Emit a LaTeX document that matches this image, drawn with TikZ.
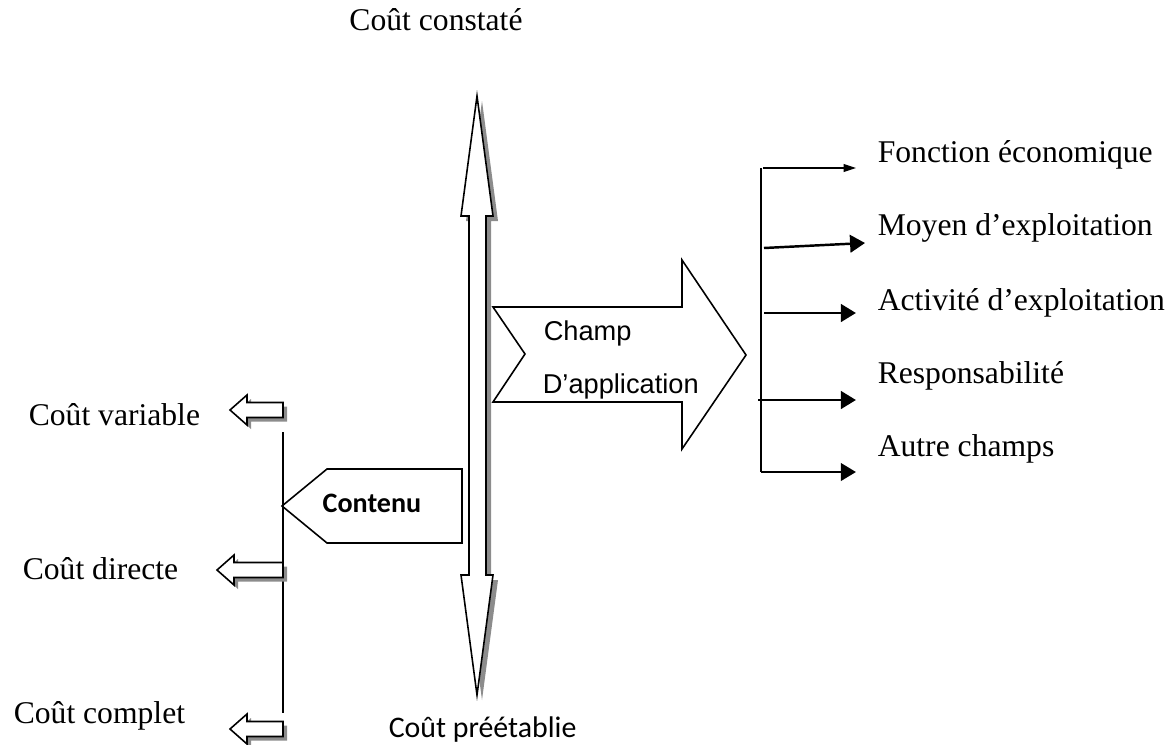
\documentclass[tikz,border=0pt]{standalone}
\usepackage{fontspec}
\setmainfont{Liberation Serif}
\newfontfamily\champfont{Liberation Sans}
\newfontfamily\calfont{Carlito}
\usetikzlibrary{arrows.meta}

\definecolor{shadowgray}{gray}{0.55}

\tikzset{
  lbl/.style={font=\fontsize{18}{20}\selectfont, inner sep=0pt, anchor=base west},
  boxshadow/.style={fill=shadowgray, draw=none},
  box/.style={draw, fill=white, line join=miter},
  thinarrow/.style={line width=0.6pt, -{Triangle[length=7pt,width=4.5pt]}},
  fatarrow/.style={line width=1.4pt, -{Triangle[length=8.5pt,width=10pt]}}
}

% small hollow arrow pointing left: tip x, centre y, length
\newcommand\costarrow[3]{%
  \begin{scope}[shift={(#1,#2)}]
    \fill[boxshadow] (4,4) -- (21,-11) -- (21,-3.5) -- (#3+4,-3.5) -- (#3+4,11.5) -- (21,11.5) -- (21,19) -- cycle;
    \draw[box] (0,0) -- (17,-15) -- (17,-7.5) -- (#3,-7.5) -- (#3,7.5) -- (17,7.5) -- (17,15) -- cycle;
  \end{scope}}

\begin{document}
\begin{tikzpicture}[x=0.02cm, y=-0.02cm, line width=0.9pt]
\useasboundingbox (0,0) rectangle (1173,744);

% big vertical double arrow
\fill[boxshadow] (482,101) -- (498,221) -- (491,221) -- (491,580) -- (498,580) -- (482,700)
  -- (466,580) -- (474,580) -- (474,221) -- (466,221) -- cycle;
\draw[box] (477,96) -- (493,216) -- (486,216) -- (486,575) -- (493,575) -- (477,695)
  -- (461,575) -- (469,575) -- (469,216) -- (461,216) -- cycle;
\node[lbl, anchor=base] (constate) at (436,30) {Coût constaté};
\node[font=\calfont\fontsize{17}{20}\selectfont, inner sep=0pt, anchor=base west] (preetab) at (388,737) {Coût préétablie};

% champ d'application
\draw[box] (493,307) -- (682,307) -- (682,260) -- (746,355) -- (682,449) -- (682,402)
  -- (493,402) -- (525,354) -- cycle;
\node[font=\champfont\fontsize{15.5}{18}\selectfont, inner sep=0pt, anchor=base west] (champ) at (543,340) {Champ};
\node[font=\champfont\fontsize{15.5}{18}\selectfont, inner sep=0pt, anchor=base west] (appli) at (542,393) {D’application};

\draw (761,168) -- (761,472);
\node[lbl] (fonc) at (877,162) {Fonction économique};
\node[lbl] (moyen) at (877,235) {Moyen d’exploitation};
\node[lbl] (activ) at (877,310) {Activité d’exploitation};
\node[lbl] (resp) at (877,383) {Responsabilité};
\node[lbl] (autre) at (877,456) {Autre champs};
\coordinate (f0) at (763,168);
\coordinate (m0) at (764,248);
\coordinate (m1) at (865,243);
\coordinate (a0) at (764,313);
\coordinate (r0) at (758,400);
\coordinate (c0) at (761,472);
\draw[thinarrow, shorten >=12] (f0) -- (f0 -| fonc.west);
\draw[fatarrow] (m0) -- (m1);
\draw[fatarrow, shorten >=12] (a0) -- (a0 -| activ.west);
\draw[fatarrow, shorten >=12] (r0) -- (r0 -| resp.west);
\draw[fatarrow, line width=1pt, shorten >=12] (c0) -- (c0 -| autre.west);

% contenu
\draw[box] (282,506) -- (327,469) -- (462,469) -- (462,543) -- (327,543) -- cycle;
\node[font=\calfont\bfseries\fontsize{16}{18}\selectfont, inner sep=0pt, anchor=base] (contenu) at (372,512) {Contenu};

\draw (283,432) -- (283,713);
\costarrow{230}{410}{53}
\costarrow{217}{570}{66}
\costarrow{230}{729}{53}
\node[lbl] (cvar) at (28,425) {Coût variable};
\node[lbl] (cdir) at (22,579) {Coût directe};
\node[lbl] (ccomp) at (13,723) {Coût complet};
\end{tikzpicture}
\end{document}
